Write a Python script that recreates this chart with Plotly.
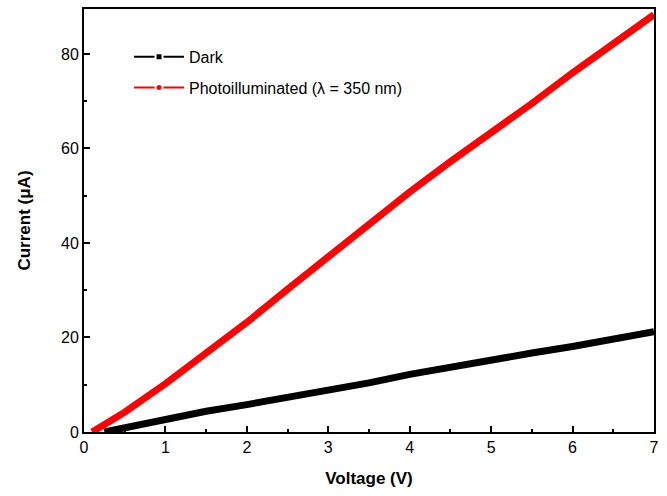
import plotly.graph_objects as go

voltage_dark = [0.25, 0.5, 1.0, 1.5, 2.0, 2.5, 3.0, 3.5, 4.0, 4.5, 5.0, 5.5, 6.0, 6.5, 7.0]
current_dark = [0.0, 0.9, 2.9, 4.4, 5.8, 7.3, 8.8, 10.4, 12.2, 13.8, 15.3, 16.7, 18.1, 19.7, 21.2]

voltage_light = [0.1, 0.5, 1.0, 1.5, 2.0, 2.5, 3.0, 3.5, 4.0, 4.5, 5.0, 5.5, 6.0, 6.5, 7.0]
current_light = [0.0, 4.2, 10.2, 16.7, 23.2, 30.2, 37.2, 44.0, 50.8, 57.2, 63.2, 69.5, 76.0, 82.0, 88.3]

x_ticks = [0, 1, 2, 3, 4, 5, 6, 7]
y_ticks = [0, 20, 40, 60, 80]

FONT = "Liberation Sans, Arial, sans-serif"

fig = go.Figure()

fig.add_trace(go.Scatter(x=voltage_dark, y=current_dark, mode="lines",
                         line=dict(color="black", width=7), showlegend=False))
fig.add_trace(go.Scatter(x=voltage_light, y=current_light, mode="lines",
                         line=dict(color="#ff0000", width=7), showlegend=False))

# legend entries
fig.add_trace(go.Scatter(x=[None], y=[None], mode="lines+markers", name="Dark",
                         legendgroup="a",
                         line=dict(color="black", width=2),
                         marker=dict(symbol="square", size=7, color="black",
                                     line=dict(color="white", width=2))))
fig.add_trace(go.Scatter(x=[None], y=[None], mode="lines+markers",
                         name="Photoilluminated (λ = 350 nm)",
                         legendgroup="b",
                         line=dict(color="#ff0000", width=2),
                         marker=dict(symbol="circle", size=7, color="#ff0000",
                                     line=dict(color="white", width=2))))

axis_common = dict(
    showline=True, linecolor="black", linewidth=2, mirror=True,
    ticks="inside", ticklen=6, tickwidth=1.5, tickcolor="black",
    showgrid=False, zeroline=False, automargin=False,
    tickfont=dict(family=FONT, size=16, color="black"),
)

fig.update_xaxes(range=[0, 7], tickvals=x_ticks,
                 minor=dict(ticks="inside", ticklen=3, tickwidth=1.5, tickcolor="black", dtick=0.5),
                 title=dict(text="<b>Voltage (V)</b>", standoff=17,
                            font=dict(family=FONT, size=17, color="black")),
                 **axis_common)
fig.update_yaxes(range=[0, 89.5], tickvals=y_ticks,
                 minor=dict(ticks="inside", ticklen=3, tickwidth=1.5, tickcolor="black", dtick=10),
                 title=dict(text="<b>Current (μA)</b>", standoff=26,
                            font=dict(family=FONT, size=17, color="black")),
                 **axis_common)

fig.update_layout(
    width=667, height=496,
    margin=dict(l=84, r=13, t=9, b=64),
    plot_bgcolor="white", paper_bgcolor="white",
    legend=dict(x=0.079, y=0.927, xanchor="left", yanchor="top",
                bgcolor="rgba(0,0,0,0)", tracegroupgap=7, itemwidth=50,
                font=dict(family=FONT, size=16, color="black")),
)

fig.write_html("out.html",
               config={"displayModeBar": False},
               post_script="document.body.style.margin='0px';document.body.style.overflow='hidden';")
